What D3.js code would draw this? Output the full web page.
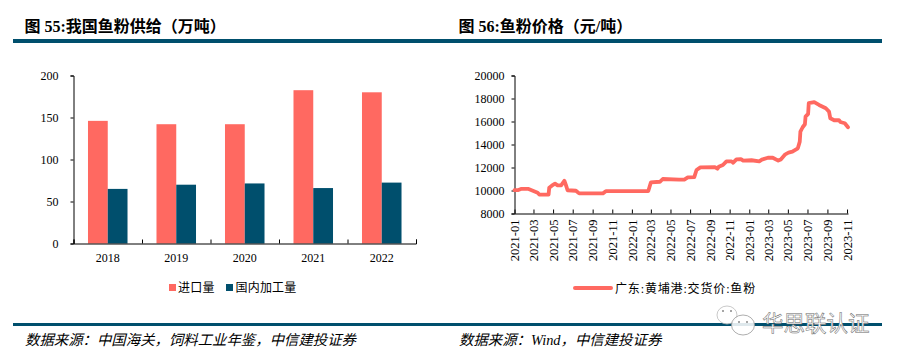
<!DOCTYPE html>
<html><head><meta charset="utf-8">
<script src="https://cdn.jsdelivr.net/npm/d3@7"></script>
<style>
html,body{margin:0;padding:0;background:#fff}
svg{display:block}
text{font-family:"Liberation Serif","Noto Sans CJK SC",serif;fill:#000}
</style></head><body><div id="c"></div>
<script>
const years = ["2018","2019","2020","2021","2022"];
const importVol = [146,142,142,182.5,180];
const domesticVol = [65,70,71.5,66,72.5];
const seriesNames = ["进口量","国内加工量"];
const priceDates = ["2021-01-01","2021-01-13","2021-01-23","2021-02-12","2021-02-27","2021-03-14","2021-03-19","2021-04-17","2021-04-19","2021-04-27","2021-05-07","2021-05-15","2021-05-26","2021-06-05","2021-06-10","2021-06-15","2021-07-11","2021-07-21","2021-10-03","2021-10-13","2022-02-21","2022-03-01","2022-03-29","2022-04-07","2022-05-28","2022-06-13","2022-06-24","2022-07-14","2022-07-21","2022-08-02","2022-09-16","2022-09-24","2022-09-28","2022-10-11","2022-10-22","2022-11-07","2022-11-12","2022-11-22","2022-12-06","2022-12-13","2023-01-08","2023-02-01","2023-02-09","2023-02-28","2023-03-15","2023-04-01","2023-04-09","2023-04-23","2023-05-03","2023-05-15","2023-06-01","2023-06-07","2023-06-09","2023-06-16","2023-06-23","2023-06-25","2023-07-03","2023-07-05","2023-07-22","2023-08-06","2023-08-27","2023-09-06","2023-09-10","2023-09-22","2023-10-07","2023-10-11","2023-10-25","2023-11-04"];
const priceVals = [10040,10040,10150,10150,9980,9800,9650,9650,10240,10415,10590,10445,10445,10850,10470,10020,9980,9750,9750,9950,9950,10700,10760,11000,10940,10940,11140,11170,11780,12010,12040,11900,12060,12215,12535,12535,12420,12700,12730,12600,12630,12535,12680,12850,12850,12600,12700,13145,13290,13375,13670,14250,15120,15500,15760,16420,16660,17590,17680,17440,17150,16860,16280,16110,16110,15960,15850,15500];
const priceTicks = ["2021-01","2021-03","2021-05","2021-07","2021-09","2021-11","2022-01","2022-03","2022-05","2022-07","2022-09","2022-11","2023-01","2023-03","2023-05","2023-07","2023-09","2023-11"];
const barTicks = [0,50,100,150,200];
const priceAxisTicks = [8000,10000,12000,14000,16000,18000,20000];
const priceName = "广东:黄埔港:交货价:鱼粉";
const titles = ["图 55:我国鱼粉供给（万吨）","图 56:鱼粉价格（元/吨）"];
const sources = ["数据来源：中国海关，饲料工业年鉴，中信建投证券","数据来源：Wind，中信建投证券"];
const watermark = "华思联认证";

const RED="#ff6961", NAVY="#004f6d";
const svg=d3.select("#c").append("svg").attr("width",900).attr("height",363);

// rules
[[39,4],[323,3]].forEach(([y,h])=>svg.append("rect").attr("x",13).attr("y",y).attr("width",869).attr("height",h).attr("fill",NAVY));
svg.selectAll(".title").data(titles).join("text").attr("x",(d,i)=>i?458.5:24.5).attr("y",32)
  .attr("font-size",16).attr("font-weight","bold").attr("fill","#111").text(d=>d);
svg.selectAll(".src").data(sources).join("text").attr("x",(d,i)=>i?459:25).attr("y",345)
  .attr("font-size",14.4).attr("font-style","italic").text(d=>d);

function styleAxis(g){g.selectAll("path,line").attr("stroke","#000").attr("stroke-width",1);g.selectAll("text").attr("fill","#000").attr("font-family",null).attr("font-size",12);}

// LEFT
const y0=d3.scaleLinear().domain([0,200]).range([243.5,75.5]);
const xb=d3.scaleBand().domain(years).range([73.5,416]).paddingInner(.423).paddingOuter(.2115);
const xi=d3.scaleBand().domain(seriesNames).range([0,xb.bandwidth()]);
const L=svg.append("g");
seriesNames.forEach((s,k)=>{
  const vals=k?domesticVol:importVol;
  L.selectAll(".b"+k).data(years).join("rect")
    .attr("x",d=>xb(d)+xi(s)).attr("width",xi.bandwidth())
    .attr("y",(d,i)=>y0(vals[i])).attr("height",(d,i)=>y0(0)-y0(vals[i]))
    .attr("fill",k?NAVY:RED);
});
L.append("g").attr("transform","translate(73.5,0)").call(d3.axisLeft(y0).tickValues(barTicks).tickSize(3).tickPadding(12).tickSizeOuter(3).tickFormat(d3.format("d"))).call(styleAxis);
const xEdges=d3.scaleLinear().domain([0,years.length]).range([73.5,416]);
L.append("g").attr("transform","translate(0,243.5)").call(d3.axisBottom(xEdges).ticks(years.length).tickSize(-4).tickSizeOuter(-4).tickFormat("")).call(styleAxis);
L.append("g").attr("transform","translate(0,243.5)").call(d3.axisBottom(xb).tickSize(0).tickPadding(10)).call(styleAxis).call(g=>g.select("path").remove());
// legend left
const lg=[[169,178,RED],[226,235.5,NAVY]];
seriesNames.forEach((s,i)=>{
  L.append("rect").attr("x",lg[i][0]).attr("y",284).attr("width",7).attr("height",7).attr("fill",lg[i][2]);
  L.append("text").attr("x",lg[i][1]).attr("y",292).attr("font-size",12).attr("letter-spacing",.2).text(s);
});

// RIGHT
const parse=d3.utcParse("%Y-%m-%d"), parseM=d3.utcParse("%Y-%m");
const xt=d3.scaleUtc().domain([parse("2021-01-01"),parse("2023-11-04")]).range([514.5,848]);
const y1=d3.scaleLinear().domain([8000,20000]).range([213.5,75.5]);
const R=svg.append("g");
R.append("g").attr("transform","translate(514.5,0)").call(d3.axisLeft(y1).tickValues(priceAxisTicks).tickSize(3).tickPadding(7).tickSizeOuter(3).tickFormat(d3.format("d"))).call(styleAxis);
R.append("g").attr("transform","translate(0,213.5)").call(d3.axisBottom(xt).tickValues(priceTicks.map(parseM)).tickSize(-4).tickSizeOuter(0).tickFormat(d3.utcFormat("%Y-%m")))
  .call(styleAxis).call(g=>g.selectAll("text").attr("transform","rotate(-90)").attr("text-anchor","end").attr("x",-6).attr("y",0).attr("dy","0.33em").attr("font-size",12.5));
R.append("path").attr("d",d3.line().x(d=>xt(parse(d[0]))).y(d=>y1(d[1]))(priceDates.map((d,i)=>[d,priceVals[i]])))
  .attr("fill","none").attr("stroke",RED).attr("stroke-width",3.8).attr("stroke-linejoin","round").attr("stroke-linecap","round");
R.append("line").attr("x1",575).attr("x2",611).attr("y1",288).attr("y2",288).attr("stroke",RED).attr("stroke-width",4).attr("stroke-linecap","round");
R.append("text").attr("x",615).attr("y",293).attr("font-size",12).attr("letter-spacing",.85).text(priceName);

// watermark
const W=svg.append("g");
W.append("ellipse").attr("cx",727).attr("cy",315).attr("rx",10).attr("ry",9).attr("fill","#fff").attr("fill-opacity",.85).attr("stroke","#bbb").attr("stroke-width",.8);
W.append("ellipse").attr("cx",743).attr("cy",325).attr("rx",11.5).attr("ry",10).attr("fill","#fff").attr("fill-opacity",.87).attr("stroke","#999").attr("stroke-width",.8);
[[723,311],[731,311],[739,322],[747,322]].forEach(p=>W.append("circle").attr("cx",p[0]).attr("cy",p[1]).attr("r",1).attr("fill","#888"));
W.append("text").attr("x",762).attr("y",331).attr("font-size",21.5).attr("style","fill:#fff;stroke:#666;stroke-width:.5;font-family:'Noto Sans CJK SC'").text(watermark);
</script></body></html>
